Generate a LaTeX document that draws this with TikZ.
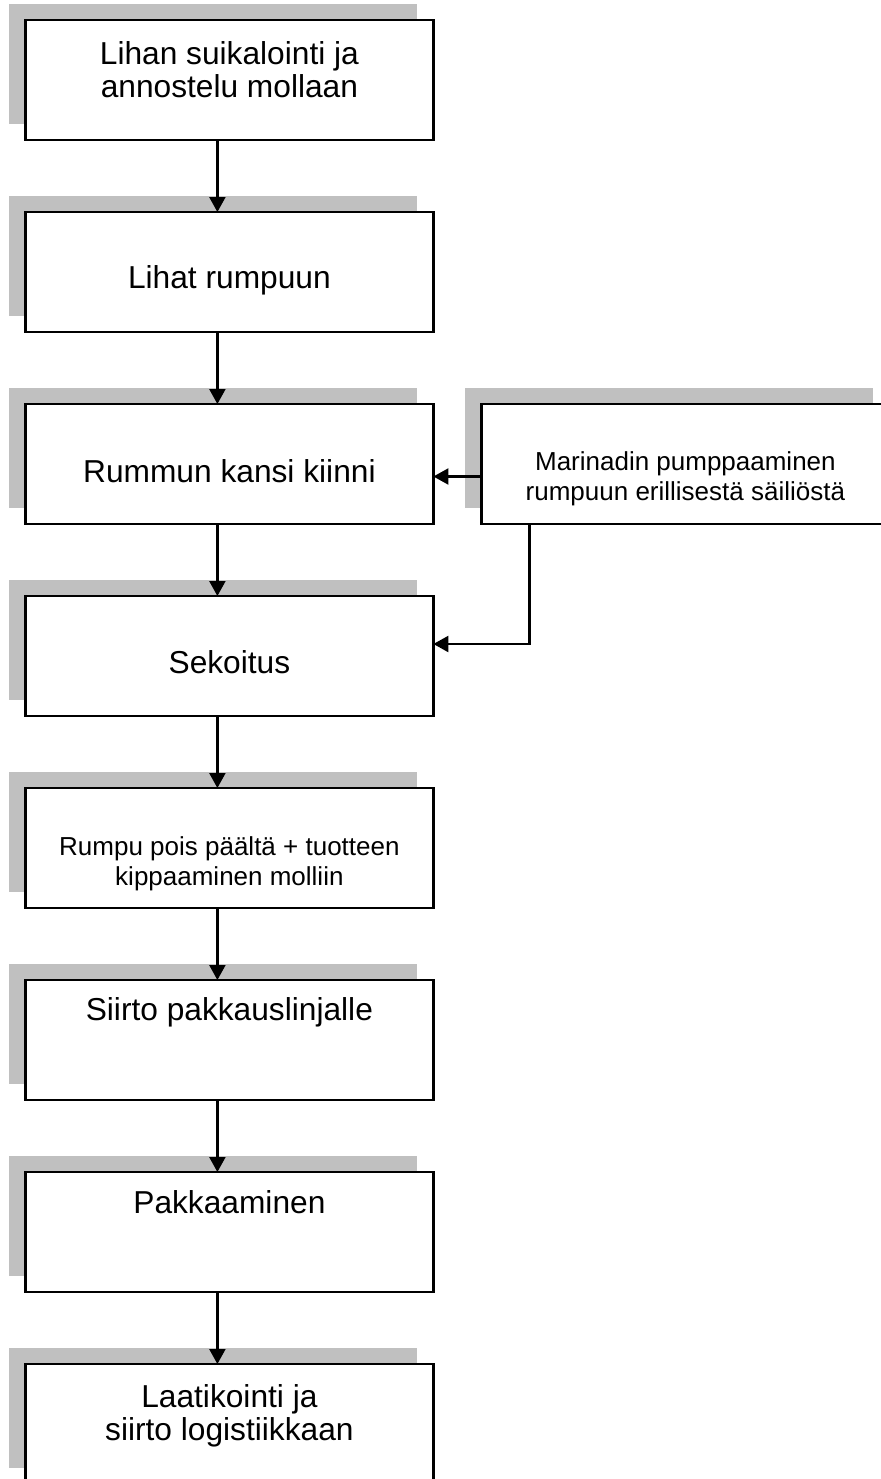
\documentclass[tikz,border=0pt]{standalone}
\usepackage{fontspec}
\setmainfont{Liberation Sans}
\usepackage{xcolor}
\usepackage{tikz}
\usetikzlibrary{positioning, shadows, arrows.meta}

\definecolor{shadowgray}{HTML}{C0C0C0}

\begin{document}
\begin{tikzpicture}[node distance=96pt, auto, line width=1.1pt,
        >={Triangle[length=7.5pt, width=8pt]},
        box/.style={draw, fill=white, minimum width=204pt, minimum height=60pt,
            inner sep=0pt, outer sep=0pt, align=center,
            font=\fontsize{15.85pt}{16.1pt}\selectfont,
            drop shadow={shadow xshift=-8pt, shadow yshift=8pt, fill=shadowgray, opacity=1}},
        smallbox/.style={box, font=\fontsize{13pt}{15pt}\selectfont}]
        \useasboundingbox (0,0) rectangle (440.5pt,-739.5pt);
        \clip (0,0) rectangle (440.5pt,-739.5pt);

        \node (b1) [box, text height=17pt, text depth=0pt] at (114.7pt,-40pt) {Lihan suikalointi ja\\annostelu mollaan};
        \node (b2) [box, below of=b1, text height=16pt, text depth=0pt] {Lihat rumpuun};
        \node (b3) [box, below of=b2, text height=18pt, text depth=0pt] {Rummun kansi kiinni};
        \node (b4) [box, below of=b3, text height=17pt, text depth=0pt] {Sekoitus};
        \node (b5) [smallbox, below of=b4, text height=37pt, text depth=0pt] {Rumpu pois päältä + tuotteen\\kippaaminen molliin};
        \node (b6) [box, below of=b5, text height=0pt, text depth=20pt] {Siirto pakkauslinjalle};
        \node (b7) [box, below of=b6, text height=0pt, text depth=19pt] {Pakkaaminen};
        \node (b8) [box, below of=b7, text height=16pt, text depth=0pt] {Laatikointi ja\\siirto logistiikkaan};

        \node (m) [smallbox, right of=b3, node distance=228pt, text height=36pt, text depth=0pt] {Marinadin pumppaaminen\\rumpuun erillisestä säiliöstä};

        \draw[->] ([xshift=-6pt]b1.south) -- ([xshift=-6pt]b2.north);
        \draw[->] ([xshift=-6pt]b2.south) -- ([xshift=-6pt]b3.north);
        \draw[->] ([xshift=-6pt]b3.south) -- ([xshift=-6pt]b4.north);
        \draw[->] ([xshift=-6pt]b4.south) -- ([xshift=-6pt]b5.north);
        \draw[->] ([xshift=-6pt]b5.south) -- ([xshift=-6pt]b6.north);
        \draw[->] ([xshift=-6pt]b6.south) -- ([xshift=-6pt]b7.north);
        \draw[->] ([xshift=-6pt]b7.south) -- ([xshift=-6pt]b8.north);

        \draw[->] ([yshift=-6.25pt]m.west) -- ([yshift=-6.25pt]b3.east);
        \draw[->] ([xshift=24pt]m.south west) |- ([yshift=6pt]b4.east);
    \end{tikzpicture}
\end{document}
